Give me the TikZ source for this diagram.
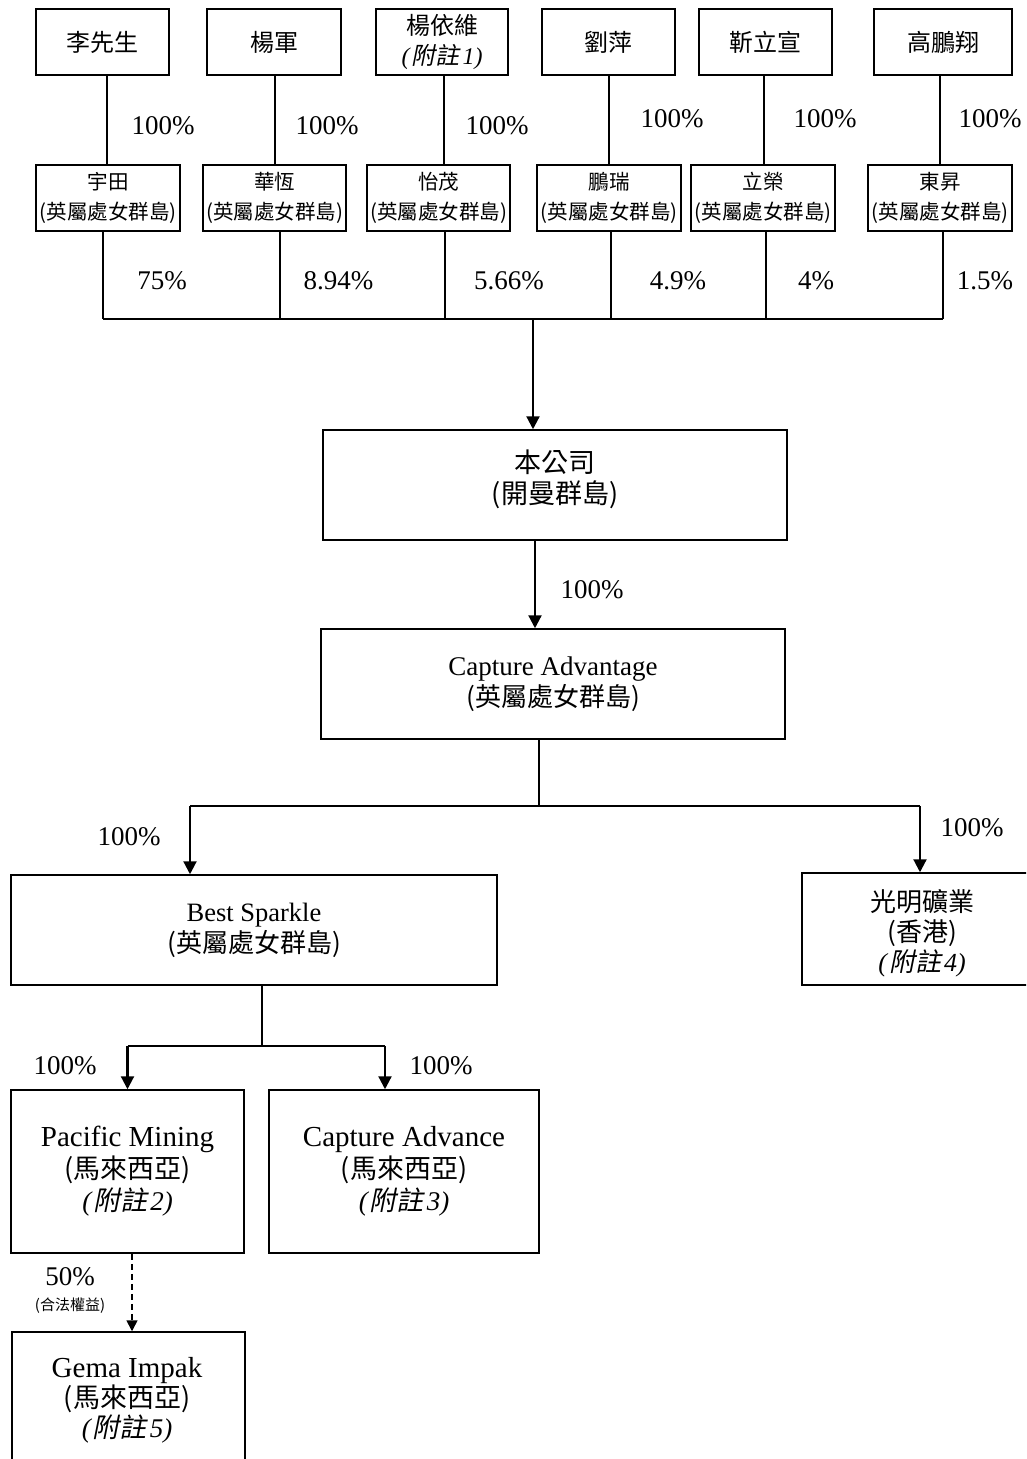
\documentclass[tikz,border=0pt]{standalone}
\usepackage{fontspec}
\setmainfont{Liberation Serif}
\newfontfamily\zhfont{Noto Sans CJK TC}
\newfontfamily\zhslfont[FakeSlant=0.2]{Noto Sans CJK TC}
\usetikzlibrary{arrows.meta}
\newcommand\fsz[2]{\fontsize{#1}{#2}\selectfont}
\newcommand\fnote[1]{{\rmfamily\itshape(}\kern2pt{\zhslfont 附註}\kern3pt{\rmfamily\itshape #1)}}
\tikzset{
  box/.style={draw, line width=1.5pt, inner sep=0pt, align=center},
  txt/.style={inner sep=0pt, align=center},
  topbox/.style={box, minimum height=66pt, font=\zhfont\fsz{24}{30}},
  subbox/.style={box, minimum height=66pt, minimum width=144pt, font=\zhfont\fsz{20.5}{30}},
  ln/.style={line width=1.6pt},
  arr/.style={line width=2.2pt, -{Triangle[width=13pt,length=13pt]}},
  darr/.style={line width=1.6pt, dash pattern=on 6pt off 4pt, -{Triangle[width=11pt,length=11pt]}},
  pct/.style={inner sep=0pt, font=\fsz{27}{30}},
}
\begin{document}
\begin{tikzpicture}[x=1pt,y=-1pt]
\useasboundingbox (0,0) rectangle (1026,1459);
\fill[white] (0,0) rectangle (1026,1459);
\clip (0,0) rectangle (1026,1459);

% top row: shareholders
\node[topbox, minimum width=133pt] (a1) at (102.5,42) {李先生};
\node[topbox, minimum width=134pt] (a2) at (274,42) {楊軍};
\node[topbox, minimum width=132pt] (a3) at (442,42) {楊依維\\\fnote{1}};
\node[topbox, minimum width=133pt] (a4) at (608.5,42) {劉萍};
\node[topbox, minimum width=133pt] (a5) at (765.5,42) {靳立宣};
\node[topbox, minimum width=138pt] (a6) at (943,42) {高鵬翔};

% second row: BVI holding companies
\node[subbox] (b1) at (108,198) {宇田\\(英屬處女群島)};
\node[subbox, minimum width=143pt] (b2) at (274.5,198) {華恆\\(英屬處女群島)};
\node[subbox, minimum width=143pt] (b3) at (438.5,198) {怡茂\\(英屬處女群島)};
\node[subbox] (b4) at (609,198) {鵬瑞\\(英屬處女群島)};
\node[subbox] (b5) at (763,198) {立榮\\(英屬處女群島)};
\node[subbox] (b6) at (940,198) {東昇\\(英屬處女群島)};

% top connectors
\draw[ln] ([xshift=-1pt]b1.north) -- ([xshift=-1pt]b1.north |- a1.south);
\draw[ln] ([xshift=0.5pt]b2.north) -- ([xshift=0.5pt]b2.north |- a2.south);
\draw[ln] ([xshift=5.5pt]b3.north) -- ([xshift=5.5pt]b3.north |- a3.south);
\draw[ln] (b4.north) -- (b4.north |- a4.south);
\draw[ln] ([xshift=1pt]b5.north) -- ([xshift=1pt]b5.north |- a5.south);
\draw[ln] (b6.north) -- (b6.north |- a6.south);

\node[pct] (p1) at (163,126) {100\%};
\node[pct] (p2) at (327,126) {100\%};
\node[pct] (p3) at (497,126) {100\%};
\node[pct] (p4) at (672,119) {100\%};
\node[pct] (p5) at (825,119) {100\%};
\node[pct] (p6) at (990,119) {100\%};

% bus to company
\coordinate (busL) at (103,319);
\coordinate (busR) at (943,319);
\coordinate (busM) at (533,319);
\draw[ln] (busL) -- (busR);
\draw[ln] ([xshift=-5pt]b1.south) -- ([xshift=-5pt]b1.south |- busL);
\draw[ln] ([xshift=5.5pt]b2.south) -- ([xshift=5.5pt]b2.south |- busL);
\draw[ln] ([xshift=6.5pt]b3.south) -- ([xshift=6.5pt]b3.south |- busL);
\draw[ln] ([xshift=2pt]b4.south) -- ([xshift=2pt]b4.south |- busL);
\draw[ln] ([xshift=3pt]b5.south) -- ([xshift=3pt]b5.south |- busL);
\draw[ln] ([xshift=3pt]b6.south) -- ([xshift=3pt]b6.south |- busL);

\node[pct] (q1) at (162,281) {75\%};
\node[pct] (q2) at (338.5,281) {8.94\%};
\node[pct] (q3) at (509,281) {5.66\%};
\node[pct] (q4) at (678,281) {4.9\%};
\node[pct] (q5) at (816,281) {4\%};
\node[pct] (q6) at (985,281) {1.5\%};

% company
\node[box, minimum width=464pt, minimum height=110pt] (co) at (555,485) {};
\node[txt, font=\zhfont\fsz{27}{31}] (cot) at (555,479) {本公司\\(開曼群島)};
\draw[arr] (busM) -- (busM |- co.north);

\node[box, minimum width=464pt, minimum height=110pt, font=\fsz{27}{31}] (ca) at (553,684)
  {Capture Advantage\\{\zhfont\fsz{26}{31}(英屬處女群島)}};
\draw[arr] ([xshift=-20pt]co.south) -- ([xshift=-20pt]co.south |- ca.north);
\node[pct] (r1) at (592,590) {100\%};

% second level
\node[box, minimum width=486pt, minimum height=110pt, font=\fsz{26.5}{31}] (bs) at (254,930)
  {Best Sparkle\\{\zhfont\fsz{26}{31}(英屬處女群島)}};
\node[box, minimum width=240pt, minimum height=112pt] (gm) at (922,929) {};
\node[txt, font=\zhfont\fsz{26}{30}] (gmt) at (922,933) {光明礦業\\(香港)\\\fnote{4}};

\coordinate (bus2L) at (190,806);
\coordinate (bus2R) at (920,806);
\draw[ln] ([xshift=-14pt]ca.south) -- ([xshift=-14pt]ca.south |- bus2L);
\draw[ln] (bus2L) -- (bus2R);
\draw[arr] (bus2L) -- (bus2L |- bs.north);
\draw[arr] (bus2R) -- (bus2R |- gm.north);
\node[pct] (r2) at (129,837) {100\%};
\node[pct] (r3) at (972,828) {100\%};

% third level
\node[box, minimum width=233pt, minimum height=163pt, font=\fsz{29}{32}] (pm) at (127.5,1171.5)
  {Pacific Mining\\{\zhfont\fsz{27}{32}(馬來西亞)}\\{\fsz{27}{32}\fnote{2}}};
\node[box, minimum width=270pt, minimum height=163pt, font=\fsz{29}{32}] (cv) at (404,1171.5)
  {Capture Advance\\{\zhfont\fsz{27}{32}(馬來西亞)}\\{\fsz{27}{32}\fnote{3}}};

\coordinate (bus3L) at (127.5,1046);
\coordinate (bus3R) at (385,1046);
\draw[ln] ([xshift=8pt]bs.south) -- ([xshift=8pt]bs.south |- bus3L);
\draw[ln] (bus3L) -- (bus3R);
\draw[arr] (bus3L) -- (bus3L |- pm.north);
\draw[arr] (bus3R) -- (bus3R |- cv.north);
\node[pct] (r4) at (65,1066) {100\%};
\node[pct] (r5) at (441,1066) {100\%};

% Gema Impak
\node[box, minimum width=233pt, minimum height=130pt] (ge) at (128.5,1397) {};
\node[txt, font=\fsz{29}{30}] (get) at (127,1400)
  {Gema Impak\\{\zhfont\fsz{27}{30}(馬來西亞)}\\{\fsz{27}{30}\fnote{5}}};
\draw[darr] ([xshift=4.5pt]pm.south) -- ([xshift=4.5pt]pm.south |- ge.north);
\node[pct] (r6) at (70,1277) {50\%};
\node[inner sep=0pt, font=\zhfont\fsz{15}{18}] (r7) at (70,1306) {(合法權益)};
\end{tikzpicture}
\end{document}
